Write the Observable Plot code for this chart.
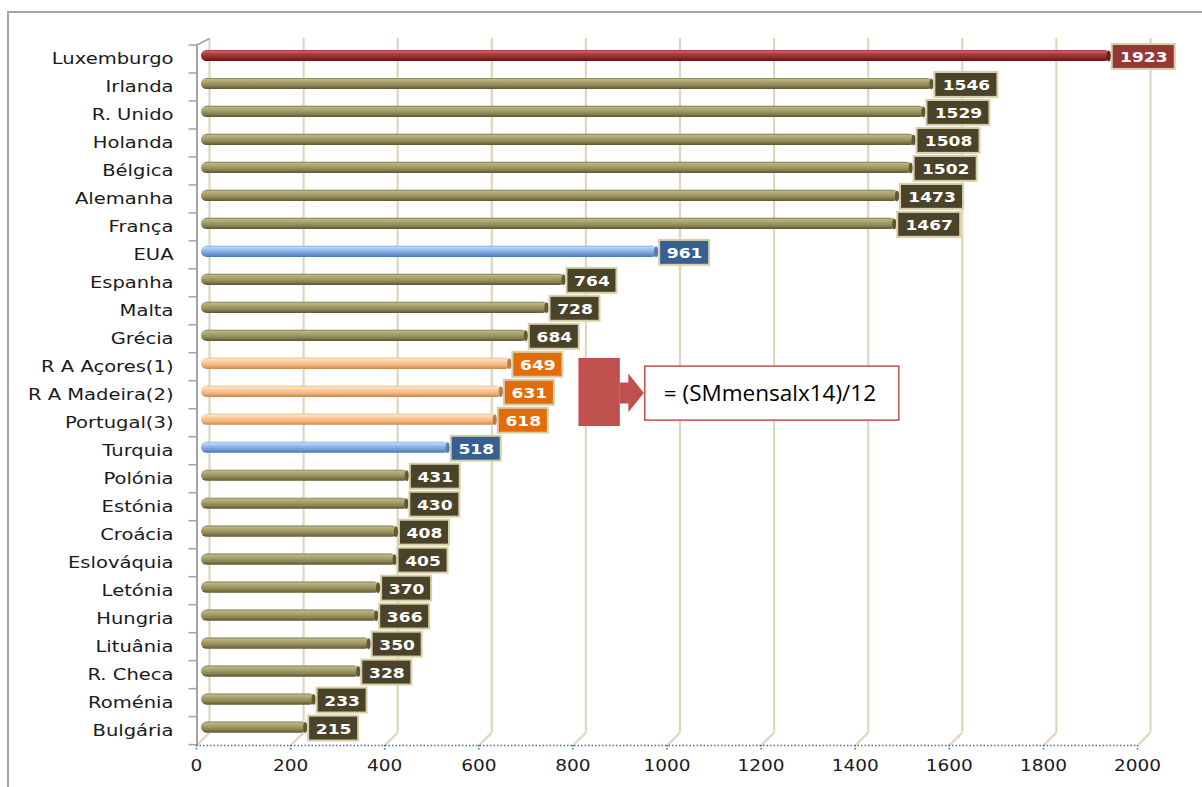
<!DOCTYPE html>
<html><head><meta charset="utf-8">
<script src="https://cdn.jsdelivr.net/npm/d3@7"></script>
<script src="https://cdn.jsdelivr.net/npm/@observablehq/plot@0.6"></script>
<style>
body{margin:0;background:#fff;}
#wrap{position:relative;width:1202px;height:787px;overflow:hidden;background:#fff;}
#frame{position:absolute;left:7px;top:11px;right:-10px;bottom:-10px;border-left:2px solid #a5a5a5;border-top:2px solid #a5a5a5;}
#wrap svg{position:absolute;left:0;top:0;}
</style>
</head><body>
<div id="wrap"><div id="frame"></div></div>
<script>
// ---- data ----
const countries = ["Luxemburgo","Irlanda","R. Unido","Holanda","Bélgica","Alemanha","França","EUA","Espanha","Malta","Grécia","R A Açores(1)","R A Madeira(2)","Portugal(3)","Turquia","Polónia","Estónia","Croácia","Eslováquia","Letónia","Hungria","Lituânia","R. Checa","Roménia","Bulgária"];
const values = [1923,1546,1529,1508,1502,1473,1467,961,764,728,684,649,631,618,518,431,430,408,405,370,366,350,328,233,215];
const groups = ["lux","eu","eu","eu","eu","eu","eu","us","eu","eu","eu","pt","pt","pt","us","eu","eu","eu","eu","eu","eu","eu","eu","eu","eu"];
const xTicks = [0,200,400,600,800,1000,1200,1400,1600,1800,2000];
const formula = "= (SMmensalx14)/12";
// callout annotation, in data space (x value, row index)
const calloutBlock = [{x1:799, x2:887, y1:10.81, y2:13.24}];
const calloutArrow = [[886,11.67],[904,11.67],[904,11.35],[937,12.04],[904,12.73],[904,12.42],[886,12.42]];
const calloutBox = [{x1:940, x2:1480, y1:11.10, y2:13.03}];
const calloutLabel = [{x:1205, y:12.06, text:formula}];

// ---- styles ----
const barGrad = {
  eu: [[0,"#77704a"],[0.12,"#bdb47f"],[0.35,"#ada46d"],[0.7,"#8d8453"],[1,"#5a5533"]],
  lux:[[0,"#852727"],[0.12,"#cc6060"],[0.38,"#a93d3d"],[0.72,"#862828"],[1,"#5a1818"]],
  us: [[0,"#7aa3da"],[0.12,"#bcd8f7"],[0.38,"#95bdee"],[0.72,"#719ad5"],[1,"#4c74ad"]],
  pt: [[0,"#e2a876"],[0.12,"#ffe4c6"],[0.38,"#fccb9d"],[0.72,"#efaf78"],[1,"#c68752"]]
};
const capColor = {eu:"#5e5833", lux:"#6a1f1f", us:"#557cb3", pt:"#b97d4b"};
const boxColor = {eu:"#4a4329", lux:"#963736", us:"#385f94", pt:"#e46c0a"};
const boxStroke = "#d7cfa6";
const gridColor = "#ddd7be";
const axisGray = "#a3a3a3";
const calloutRed = "#c0504d";
// horizontal stretch of the text (the original's glyphs are wide)
const textStretch = {"category labels": 1.22, "tick labels": 1.12, "value labels": 1.22, "callout label": 1.0};

const rows = countries.map((c, i) => ({country: c, value: values[i], group: groups[i], i}));
const four = rows.filter(d => String(d.value).length >= 4);
const three = rows.filter(d => String(d.value).length < 4);

// 3D geometry (data units / row units)
const DEPTH = 27.6;        // x depth of the floor in value units (~13px)
const yBackTop = -0.625, yBackBottom = 24.18, yFloor = 24.64, yFrontTop = -0.393;
const yTickLabel = 25.36;
const boundaries = d3.range(26).map(k => k - 0.5);

const capSymbol = {draw(ctx, size) {
  const r = Math.sqrt(size / Math.PI), rx = r * 0.38, k = 0.5523;
  ctx.moveTo(rx, 0);
  ctx.bezierCurveTo(rx, k*r, k*rx, r, 0, r);
  ctx.bezierCurveTo(-k*rx, r, -rx, k*r, -rx, 0);
  ctx.bezierCurveTo(-rx, -k*r, -k*rx, -r, 0, -r);
  ctx.bezierCurveTo(k*rx, -r, rx, -k*r, rx, 0);
  ctx.closePath();
}};

const font = "DejaVu Sans";

const svg = Plot.plot({
  width: 1202,
  height: 787,
  marginLeft: 202.5,
  marginRight: 58.5,
  marginTop: 38,
  marginBottom: 42,
  x: {domain: [0, 2000], axis: null},
  y: {domain: [yBackTop, yFloor], reverse: true, axis: null},
  color: {type: "identity"},
  style: {fontFamily: font, background: "transparent", overflow: "visible"},
  marks: [
    // back wall grid lines
    Plot.ruleX(xTicks, {x: d => d, y1: yBackTop, y2: yBackBottom, dx: 6.5, stroke: gridColor, strokeWidth: 2.2}),
    // floor slants
    Plot.link(xTicks, {x1: d => d + DEPTH/2, y1: yBackBottom, x2: d => d - DEPTH/2, y2: yFloor, stroke: gridColor, strokeWidth: 2.2}),
    // left (category) axis
    Plot.ruleX([0], {x: d => d, y1: yFrontTop, y2: yFloor, dx: -6, stroke: axisGray, strokeWidth: 2}),
    Plot.link([0], {x1: d => d - DEPTH/2 + 1, y1: yFrontTop, x2: d => d + DEPTH/2, y2: yBackTop, stroke: axisGray, strokeWidth: 1.5}),
    Plot.link(boundaries, {x1: -DEPTH/2 - 17, x2: -DEPTH/2 + 1, y1: d => d, y2: d => d, dy: 3, stroke: axisGray, strokeWidth: 1.5}),
    // bottom dotted value axis
    Plot.ruleY([yFloor], {y: d => d, x1: 0, x2: 2000, dx: -6.5, stroke: "#3a7a90", strokeWidth: 1.5, strokeDasharray: "1.5,2"}),
    Plot.ruleX(xTicks, {x: d => d, y1: yFloor, y2: yFloor + 0.2, dx: -6.5, stroke: "#3a7a90", strokeWidth: 1.5, strokeDasharray: "1.5,1.5"}),
    Plot.text(xTicks, {x: d => d, y: yTickLabel, text: d => String(d), dx: -6.5, fontSize: 16.5, fontFamily: font, fill: "#1a1a1a", ariaDescription: "tick labels"}),
    // category labels
    Plot.text(rows, {x: 0, y: "i", text: "country", textAnchor: "end", dx: -29.5, dy: 3, fontSize: 16, fontFamily: font, fill: "#1a1a1a", ariaDescription: "category labels"}),
    // bars (cylinders)
    Plot.rect(rows, {x1: 0, x2: "value", y1: d => d.i - 0.2, y2: d => d.i + 0.2, fill: d => `url(#bar-${d.group})`, rx: 5.5, insetLeft: -1.5, insetRight: -3}),
    Plot.dot(rows, {x: "value", y: "i", dx: 1, r: 5.5, symbol: capSymbol, fill: d => capColor[d.group], stroke: "none"}),
    // value label boxes
    Plot.rect(four, {x1: "value", x2: "value", y1: d => d.i - 0.41, y2: d => d.i + 0.48, insetLeft: 4.5, insetRight: -67.5, fill: d => boxColor[d.group], stroke: boxStroke, strokeWidth: 2}),
    Plot.rect(three, {x1: "value", x2: "value", y1: d => d.i - 0.41, y2: d => d.i + 0.48, insetLeft: 4.5, insetRight: -54.5, fill: d => boxColor[d.group], stroke: boxStroke, strokeWidth: 2}),
    Plot.text(four, {x: "value", y: "i", text: d => String(d.value), dx: 36, dy: 1.5, fontSize: 14, fontWeight: "bold", fontFamily: font, fill: "#ffffff", ariaDescription: "value labels"}),
    Plot.text(three, {x: "value", y: "i", text: d => String(d.value), dx: 29.5, dy: 1.5, fontSize: 14, fontWeight: "bold", fontFamily: font, fill: "#ffffff", ariaDescription: "value labels"}),
    // callout
    Plot.rect(calloutBlock, {x1: "x1", x2: "x2", y1: "y1", y2: "y2", fill: calloutRed}),
    Plot.line(calloutArrow, {x: d => d[0], y: d => d[1], fill: calloutRed, stroke: "none"}),
    Plot.rect(calloutBox, {x1: "x1", x2: "x2", y1: "y1", y2: "y2", fill: "#ffffff", stroke: calloutRed, strokeWidth: 1.5}),
    Plot.text(calloutLabel, {x: "x", y: "y", text: "text", fontSize: 22.5, fontFamily: "Open Sans", fill: "#000000", ariaDescription: "callout label"})
  ]
});

// gradient definitions for the cylinder bars
const ns = "http://www.w3.org/2000/svg";
const defs = document.createElementNS(ns, "defs");
for (const [key, stops] of Object.entries(barGrad)) {
  const lg = document.createElementNS(ns, "linearGradient");
  lg.setAttribute("id", "bar-" + key);
  lg.setAttribute("x1", "0"); lg.setAttribute("y1", "0");
  lg.setAttribute("x2", "0"); lg.setAttribute("y2", "1");
  for (const [o, c] of stops) {
    const s = document.createElementNS(ns, "stop");
    s.setAttribute("offset", o);
    s.setAttribute("stop-color", c);
    lg.appendChild(s);
  }
  defs.appendChild(lg);
}
svg.insertBefore(defs, svg.firstChild);
document.getElementById("wrap").appendChild(svg);

// widen glyphs horizontally
for (const [desc, f] of Object.entries(textStretch)) {
  if (f === 1) continue;
  svg.querySelectorAll(`g[aria-description="${desc}"] text`).forEach(t => {
    const w = t.getComputedTextLength();
    t.setAttribute("textLength", (w * f).toFixed(1));
    t.setAttribute("lengthAdjust", "spacingAndGlyphs");
  });
}
</script>
</body></html>
